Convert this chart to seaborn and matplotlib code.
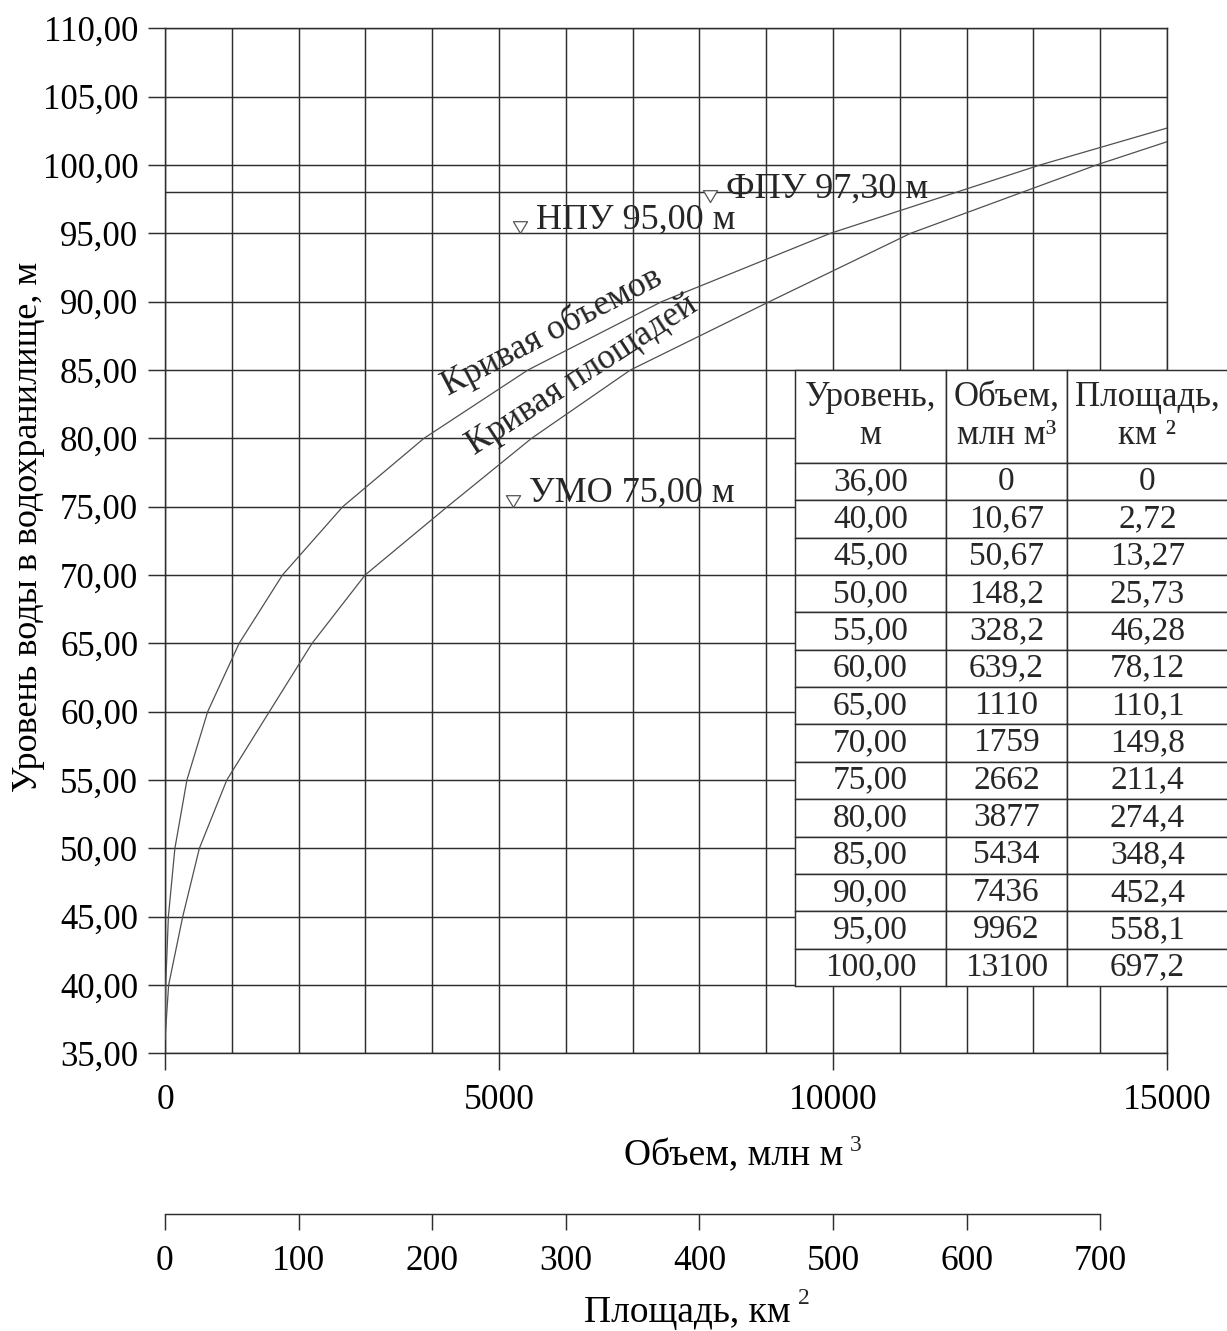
import matplotlib
matplotlib.use("Agg")
import matplotlib.pyplot as plt
import pandas as pd
import seaborn as sns
from matplotlib.markers import MarkerStyle
from matplotlib.path import Path
from matplotlib.ticker import FixedLocator, FuncFormatter, MultipleLocator

# Reservoir characteristics: level (m), volume (mln m3), surface area (km2)
levels = [36.0, 40.0, 45.0, 50.0, 55.0, 60.0, 65.0, 70.0, 75.0, 80.0, 85.0, 90.0, 95.0, 100.0]
volumes = [0, 10.67, 50.67, 148.2, 328.2, 639.2, 1110, 1759, 2662, 3877, 5434, 7436, 9962, 13100]
areas = [0, 2.72, 13.27, 25.73, 46.28, 78.12, 110.1, 149.8, 211.4, 274.4, 348.4, 452.4, 558.1, 697.2]

# continuation of both curves above the last tabulated level, up to the grid edge
volume_tail = [15000]
volume_tail_levels = [102.7]
area_tail = [750]
area_tail_levels = [101.7]

level_ticks = [35, 40, 45, 50, 55, 60, 65, 70, 75, 80, 85, 90, 95, 100, 105, 110]
volume_ticks = [0, 5000, 10000, 15000]
volume_grid_step = 1000
area_ticks = [0, 100, 200, 300, 400, 500, 600, 700]
extra_level_line = 98.0

# characteristic levels
mark_names = ["ФПУ", "НПУ", "УМО"]
mark_levels = [97.30, 95.00, 75.00]
mark_volumes = [8160, 5315, 5210]

table_header = ["Уровень,\nм", "Объем,\nмлн м³", "Площадь,\nкм ²"]


def comma(text):
    return text.replace(".", ",")


def fmt_value(v):
    if v == 0:
        return "0"
    if v >= 1000:
        return f"{v:.0f}"
    return comma(f"{v:.4g}")


sns.set_theme(style="white")
plt.rcParams["font.family"] = ["Liberation Serif", "DejaVu Serif"]

W, H = 1227, 1331
L, R, T, B = 165.0, 1167.0, 28.3, 1053.3


def ax_x(px):
    return (px - L) / (R - L)


def ax_y(py):
    return (B - py) / (B - T)


line_col = "#2e2e2e"
curve_col = "#505050"
grid_lw = 1.05

fig = plt.figure(figsize=(W / 100, H / 100), dpi=100)
ax = fig.add_axes([L / W, 1 - B / H, (R - L) / W, (B - T) / H])

# volume curve on the main (volume) axis
vol_df = pd.DataFrame({"volume": volumes + volume_tail,
                       "level": levels + volume_tail_levels})
sns.lineplot(data=vol_df, x="volume", y="level", ax=ax, sort=False,
             estimator=None, color=curve_col, linewidth=0.9, zorder=3)

ax.set_xlim(0, 15000)
ax.set_ylim(35, 110)
ax.xaxis.set_major_locator(FixedLocator(volume_ticks))
ax.xaxis.set_minor_locator(MultipleLocator(volume_grid_step))
ax.yaxis.set_major_locator(FixedLocator(level_ticks))
ax.yaxis.set_major_formatter(FuncFormatter(lambda v, p: comma(f"{v:.2f}")))
ax.xaxis.set_major_formatter(FuncFormatter(lambda v, p: f"{v:.0f}"))

ax.grid(True, which="both", axis="x", color=line_col, linewidth=grid_lw)
ax.grid(True, which="major", axis="y", color=line_col, linewidth=grid_lw)
ax.axhline(extra_level_line, color=line_col, linewidth=grid_lw, zorder=0.6)

ax.tick_params(axis="x", which="major", bottom=True, direction="out", length=12,
               width=grid_lw, color=line_col, pad=10, labelsize=25.5,
               labelcolor="black")
ax.tick_params(axis="x", which="minor", bottom=False, length=0)
ax.tick_params(axis="y", which="major", left=True, direction="out", length=12.2,
               width=grid_lw, color=line_col, pad=7, labelsize=25,
               labelcolor="black")
for sp in ax.spines.values():
    sp.set_color(line_col)
    sp.set_linewidth(grid_lw)

ax.set_xlabel("Объем, млн м", fontsize=27, color="black")
ax.xaxis.set_label_coords(ax_x(733.5), ax_y(1165))
ax.xaxis.label.set_va("baseline")
ax.text(ax_x(850), ax_y(1151), "3", transform=ax.transAxes, fontsize=17,
        ha="left", va="baseline", clip_on=False)

ax.set_ylabel("Уровень воды в водохранилище, м", fontsize=26, color="black")
ax.yaxis.set_label_coords(ax_x(45), ax_y(527))

# surface area curve on its own axis, shown below the volume axis
ax_area = ax.twiny()
area_df = pd.DataFrame({"area": areas + area_tail,
                        "level": levels + area_tail_levels})
sns.lineplot(data=area_df, x="area", y="level", ax=ax_area, sort=False,
             estimator=None, color=curve_col, linewidth=0.9, zorder=3)
ax_area.set_xlim(0, 750)
ax_area.grid(False)
ax_area.xaxis.set_ticks_position("bottom")
ax_area.xaxis.set_label_position("bottom")
ax_area.spines["bottom"].set_position(("axes", ax_y(1214)))
ax_area.spines["bottom"].set_bounds(area_ticks[0], area_ticks[-1])
ax_area.spines["bottom"].set_color(line_col)
ax_area.spines["bottom"].set_linewidth(grid_lw)
for side in ("top", "left", "right"):
    ax_area.spines[side].set_visible(False)
ax_area.xaxis.set_major_locator(FixedLocator(area_ticks))
ax_area.xaxis.set_major_formatter(FuncFormatter(lambda v, p: f"{v:.0f}"))
ax_area.tick_params(axis="x", which="major", bottom=True, top=False,
                    labelbottom=True, labeltop=False, direction="out",
                    length=11.5, width=grid_lw, color=line_col, pad=11,
                    labelsize=25.5, labelcolor="black")
ax_area.set_xlabel("Площадь, км", fontsize=27, color="black")
ax_area.xaxis.set_label_coords(ax_x(687.8), ax_y(1321.7))
ax_area.xaxis.label.set_va("baseline")
ax_area.set_ylabel("")
ax_area.tick_params(axis="y", left=False, right=False, labelleft=False,
                    labelright=False)
ax.text(ax_x(797.6), ax_y(1304), "2", transform=ax.transAxes, fontsize=17,
        ha="left", va="baseline", clip_on=False)

# curve captions
ax.text(5793, 87.83, "Кривая объемов", fontsize=25.5, rotation=27.6,
        rotation_mode="anchor", ha="center", va="center", zorder=4)
ax.text(6243, 84.6, "Кривая площадей", fontsize=25.5, rotation=33,
        rotation_mode="anchor", ha="center", va="center", zorder=4)

# level markers: open triangles with the tip on the level
tri = MarkerStyle(Path([(-0.6, 1.0), (0.6, 1.0), (0.0, 0.0), (-0.6, 1.0)],
                       [Path.MOVETO, Path.LINETO, Path.LINETO, Path.CLOSEPOLY]))
sns.scatterplot(x=mark_volumes, y=mark_levels, ax=ax, marker=tri, s=289,
                facecolor="white", edgecolor="#555555", linewidth=0.9, zorder=5)
for name, lev, vol in zip(mark_names, mark_levels, mark_volumes):
    ax.annotate(f"{name} {comma(f'{lev:.2f}')} м", xy=(vol, lev),
                xytext=(11.5, 9.4), textcoords="offset points",
                ha="left", va="center", fontsize=26, zorder=5)

# table of characteristics
cell_text = [table_header] + [
    [comma(f"{lv:.2f}"), fmt_value(v), fmt_value(a)]
    for lv, v, a in zip(levels, volumes, areas)
]
tab = ax.table(cellText=cell_text, cellLoc="center", colWidths=[151, 121, 161],
               bbox=[ax_x(795), ax_y(986), ax_x(1228) - ax_x(795),
                     ax_y(370) - ax_y(986)])
tab.auto_set_font_size(False)
tab.set_fontsize(24)
tab.set_zorder(6)
tab.set_clip_on(False)
for (r, c), cell in tab.get_celld().items():
    cell.set_edgecolor(line_col)
    cell.set_linewidth(grid_lw)
    cell.set_facecolor("white")
    cell.set_height(93 / 37.4 if r == 0 else 1.0)
    cell.set_clip_on(False)
    cell.get_text().set_linespacing(1.2)
    if r == 0:
        cell.get_text().set_fontsize(25)

fig.savefig("out.png", dpi=100, facecolor="white")
